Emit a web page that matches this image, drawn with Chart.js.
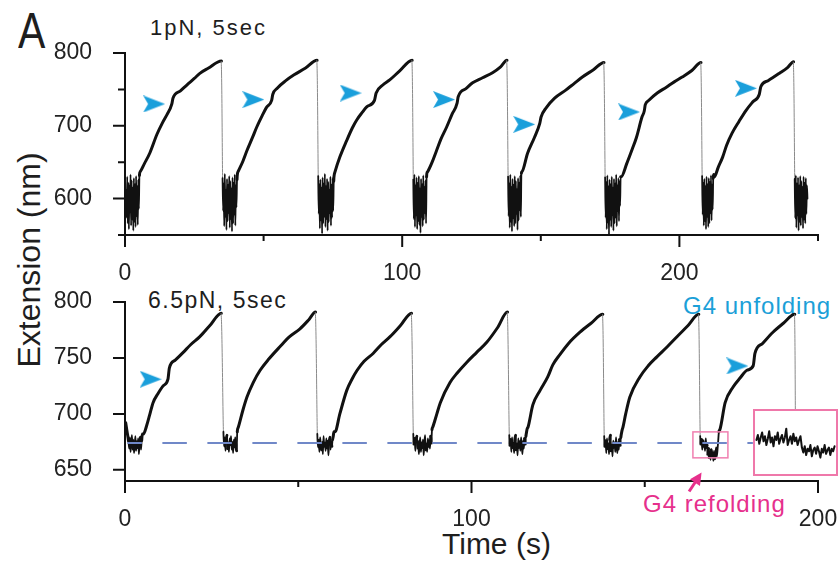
<!DOCTYPE html>
<html>
<head>
<meta charset="utf-8">
<script src="https://cdn.jsdelivr.net/npm/chart.js@4.4.1/dist/chart.umd.min.js"></script>
<style>
    body { margin: 0; background: #fff; width: 838px; height: 562px; position: relative; overflow: hidden;
           font-family: "Liberation Sans", Arial, sans-serif; color: #1e1e1e; }
    .t { position: absolute; line-height: 1; white-space: nowrap; }
    .cv { position: absolute; left: 0; }
    #inset { position: absolute; left: 753px; top: 409px; width: 85px; height: 67px;
             border: 2px solid #ef78aa; box-sizing: border-box; background: #fff; }
    #inset canvas { position: absolute; left: 0; top: 0; }
</style>
</head>
<body>
<div class="t" style="left:18px;top:6px;font-size:50px;transform:scaleX(0.82);transform-origin:left top;">A</div>
<div class="t" style="left:150px;top:17px;font-size:22px;letter-spacing:2px;">1pN, 5sec</div>
<div class="t" style="left:148px;top:289px;font-size:23px;letter-spacing:1.5px;">6.5pN, 5sec</div>
<div class="t" style="left:683px;top:294px;font-size:24px;letter-spacing:1px;color:#1ba0d8;">G4 unfolding</div>
<div class="t" style="left:643px;top:492px;font-size:24px;letter-spacing:1px;color:#e6308c;">G4 refolding</div>
<div class="t" style="left:29px;top:260px;font-size:32px;transform:translate(-50%,-50%) rotate(-90deg);">Extension (nm)</div>
<div class="t" style="left:442px;top:529px;font-size:30px;">Time (s)</div>

<canvas id="top" class="cv" width="838" height="280" style="top:0"></canvas>
<canvas id="bottom" class="cv" width="838" height="282" style="top:280px"></canvas>
<div id="inset"><canvas id="insetChart" width="81" height="63"></canvas></div>

<script>
// ---- 1 pN panel ----
const topXTicks = [0, 50, 100, 150, 200, 250];
const topXLabels = ['0', '', '100', '', '200', ''];
const topYTicks = [550, 600, 650, 700, 750, 800];
const topYLabels = ['', '600', '', '700', '', '800'];

const noiseStep = 0.2;
const topNoiseStart = [0.4, 35.2, 69.7, 104.0, 138.2, 173.2, 208.2, 241.6];
const topNoise = [
    [612,574,630,566,622,558,618,581,633,563,625,571,615,556,628,568,620,561,631,576,617,564,626,586,632],
    [628,583,621,562,634,575,612,557,627,569,619,580,631,560,624,572,614,555,629,566,622,578,633,563,618,588,626,635],
    [631,579,620,559,626,570,615,552,629,566,621,575,634,561,617,572,627,556,623,568,612,580,630,563,619,574,628,583,624,633],
    [626,572,633,561,618,577,629,558,622,569,631,564,614,553,627,575,620,562,632,571,616,580,625,566,630,636],
    [630,576,621,560,633,568,616,555,627,573,619,562,631,566,624,579,613,557,628,570,622,584,632,575,635],
    [629,574,623,558,632,567,617,550,626,571,620,561,630,577,615,556,627,566,621,574,633,562,618,583,628,569,624,590,630],
    [631,578,622,563,627,569,617,558,630,575,620,561,628,566,623,580,632,570,619,585,628,633],
    [627,573,632,560,621,577,629,556,618,568,631,563,624,575,616,559,630,571,622,566,628,579,618,600]
];
const topRise = [
    [[5.5,637],[7,648],[9,663],[11.5,688],[13.5,704],[15.1,715],[16.9,730],[17.3,738],[20,748],[22.3,756],[25,765],[27,772],[30,779],[34.8,789]],
    [[40.8,637],[42.5,651],[44,666],[46,684],[47.5,698],[49.5,714],[51,725],[52.9,735],[53.3,743],[55,752],[58,762],[61,770],[65,779],[69.3,790]],
    [[75.7,636],[77.5,657],[80,680],[82,697],[83.6,708],[85.5,718],[87.2,726],[90,735],[90.6,745],[93,756],[95.5,763],[99,775],[103.6,790]],
    [[109.2,637],[110.8,650],[112.4,666],[114,682],[116,698],[118,716],[119.8,731],[120.2,740],[123,751],[125.4,759],[129,766],[132.6,773],[135.5,781],[137.8,790]],
    [[143.2,637],[145.2,662],[147.7,684],[149.6,703],[150.1,712],[152,725],[155,738],[159,749],[162,758],[165,767],[169,777],[172.8,787]],
    [[179,630],[181,648],[183,668],[184.5,684],[186.5,712],[187.3,720],[187.7,729],[189,735],[192,745],[195.3,753],[198,760],[201,767],[204.5,776],[207.8,787]],
    [[212.6,630],[214,643],[215.6,657],[217,673],[219,690],[221.5,706],[224,721],[226.5,733],[228.8,743],[229.4,754],[232,762],[236,772],[239,780],[241.2,788]]
];
const topArrows = [[10.5,730],[46.3,736],[81.4,745],[115.1,736],[144,702],[181.8,719],[224,751.5]];

// ---- 6.5 pN panel ----
const botXTicks = [0, 50, 100, 150, 200];
const botXLabels = ['0', '', '100', '', '200'];
const botYTicks = [650, 700, 750, 800];
const botYLabels = ['650', '700', '750', '800'];

const botLead = [[0.2,692],[0.6,684]];
const botNoiseStart = [1.0, 28.4, 55.5, 83.2, 110.9, 138.3, 166.0];
const botNoise = [
    [676,669,679,666,674,681,668,677,665,672,680,667,675,670,678,664,673,679,668,676,682],
    [684,671,679,667,676,681,669,674,666,678,672,680,668,675,665,677,670,679,673,667,684],
    [682,670,677,666,679,672,668,675,664,680,671,674,667,678,669,676,663,673,679,668,675,671,677,680,684],
    [682,673,678,667,675,680,669,676,664,672,679,666,674,670,677,663,675,681,668,673,666,678,671,676,669,680,674,686],
    [681,672,677,666,679,670,674,665,676,681,668,673,663,678,670,675,667,679,672,664,676,669,678,673,680,684,687],
    [680,671,676,665,678,669,673,664,677,681,667,672,662,676,670,674,666,679,671,665,675,668,677,672,679,683,686],
    [680,673,677,668,676,671,674,667,678,670,672,664,669,661,666,659,668,662,665,658,667,660,664,670,662,668,676,684]
];
const botRise = [
    [[5.3,682],[6.3,690],[7.2,700],[8.1,710],[9.5,718],[11,725],[12.4,731],[12.8,741],[14.5,748],[16.8,755],[19,762],[21.6,769],[24.5,779],[27.8,790]],
    [[32.7,688],[34,703],[35.2,715],[37,728],[39,739],[41.5,749],[44.7,760],[47.5,769],[50.5,776],[53,784],[55,791]],
    [[60.6,684],[62,700],[64,721],[65.5,731],[67,739],[69,747],[71.6,754],[74,762],[76.5,769],[79.5,779],[82.7,790]],
    [[88.8,688],[90,700],[91,710],[93.8,728],[96,737],[98.6,746],[101.5,755],[104.4,764],[107.5,777],[110.4,791]],
    [[116.3,688],[117.7,708],[119.8,721],[122,733],[123.5,744],[125.5,753],[128,763],[131.3,773],[134.5,781],[137.9,789]],
    [[143.7,688],[144.5,700],[145.7,715],[148.6,733],[151,743],[153.5,751],[156.5,760],[159.3,769],[162.5,779],[165.6,789]],
    [[171.7,686],[173.2,710],[175.5,724],[177.5,732],[179.5,739],[181.3,743],[181.8,754],[184,763],[187,773],[190,781],[193.3,789]]
];
const botTail = [[193.5,680]];
const botArrows = [[7.4,731],[176.7,742.8]];
const baseline = [[0.9,674],[181,674]];
const refoldBox = [163.9, 174.0, 660.7, 683.9];
const refoldArrow = [[162.8,630.6],[166.4,647.5]];

// zoomed view of the refolding step
const insetStart = 166.0;
const insetStep = 0.1;
const insetValues = [677,681,674,679,683,676,680,673,678,684,675,679,672,680,677,683,674,678,681,675,679,686,673,677,680,674,682,676,679,673,677,680,
    671,667,672,665,670,668,673,664,669,671,666,672,668,663,670,667,673,666,669,671,665,670,668,672];

const pt = p => ({ x: p[0], y: p[1] });

function buildTrace(lead, starts, noise, rises, tail) {
    const out = lead.map(pt);
    const n = Math.max(noise.length, rises.length);
    for (let i = 0; i < n; i++) {
        if (noise[i]) noise[i].forEach((v, j) => out.push({ x: +(starts[i] + j * noiseStep).toFixed(2), y: v }));
        if (rises[i]) rises[i].forEach(p => out.push(pt(p)));
    }
    tail.forEach(p => out.push(pt(p)));
    return out;
}

// arrow head used for the unfolding marks
const arrowImg = document.createElement('canvas');
arrowImg.width = 22;
arrowImg.height = 17;
(function () {
    const c = arrowImg.getContext('2d');
    c.fillStyle = '#1a9fdb';
    c.beginPath();
    c.moveTo(0, 0);
    c.lineTo(22, 8.5);
    c.lineTo(0, 17);
    c.lineTo(5, 8.5);
    c.closePath();
    c.fill();
})();

Chart.defaults.font.family = '"Liberation Sans", Arial, sans-serif';
Chart.defaults.color = '#222';

function segStyle(dropMin, steep, thin) {
    return {
        borderColor: c => (c.p1.parsed.y - c.p0.parsed.y < dropMin ? '#8a8a8a' : '#111'),
        borderWidth: c => {
            const dy = c.p1.parsed.y - c.p0.parsed.y;
            if (dy < dropMin) return 1;
            return Math.abs(dy / (c.p1.parsed.x - c.p0.parsed.x)) > steep ? thin : 3;
        }
    };
}

const tickMarks = {
    id: 'tickMarks',
    afterDraw(chart) {
        const { ctx, scales: { x, y } } = chart;
        ctx.save();
        ctx.strokeStyle = '#111';
        ctx.lineWidth = 2;
        ctx.beginPath();
        x.ticks.forEach(t => {
            const px = x.getPixelForValue(t.value);
            ctx.moveTo(px, x.top);
            ctx.lineTo(px, x.top + (t.label ? 12 : 6));
        });
        y.ticks.forEach(t => {
            const py = y.getPixelForValue(t.value);
            ctx.moveTo(y.right, py);
            ctx.lineTo(y.right - (t.label ? 12 : 7), py);
        });
        ctx.stroke();
        ctx.restore();
    }
};

const refoldMarks = {
    id: 'refoldMarks',
    afterDatasetsDraw(chart) {
        const { ctx, scales: { x, y } } = chart;
        ctx.save();
        ctx.strokeStyle = '#f07fb0';
        ctx.lineWidth = 1.5;
        const bx0 = x.getPixelForValue(refoldBox[0]), bx1 = x.getPixelForValue(refoldBox[1]);
        const by0 = y.getPixelForValue(refoldBox[3]), by1 = y.getPixelForValue(refoldBox[2]);
        ctx.strokeRect(bx0, by0, bx1 - bx0, by1 - by0);
        const tx = x.getPixelForValue(refoldArrow[0][0]), ty = y.getPixelForValue(refoldArrow[0][1]);
        const hx = x.getPixelForValue(refoldArrow[1][0]), hy = y.getPixelForValue(refoldArrow[1][1]);
        const ang = Math.atan2(hy - ty, hx - tx);
        ctx.strokeStyle = ctx.fillStyle = '#e6308c';
        ctx.lineWidth = 3;
        ctx.beginPath();
        ctx.moveTo(tx, ty);
        ctx.lineTo(hx - 8 * Math.cos(ang), hy - 8 * Math.sin(ang));
        ctx.stroke();
        ctx.beginPath();
        ctx.moveTo(hx, hy);
        ctx.lineTo(hx - 12 * Math.cos(ang) + 6 * Math.sin(ang), hy - 12 * Math.sin(ang) - 6 * Math.cos(ang));
        ctx.lineTo(hx - 12 * Math.cos(ang) - 6 * Math.sin(ang), hy - 12 * Math.sin(ang) + 6 * Math.cos(ang));
        ctx.closePath();
        ctx.fill();
        ctx.restore();
    }
};

function axes(xMin, xMax, xTicks, xLabels, yMin, yMax, yTicks, yLabels, xHeight) {
    const common = { grid: { display: false }, border: { display: true, color: '#111', width: 2 } };
    return {
        x: {
            ...common, type: 'linear', min: xMin, max: xMax,
            afterBuildTicks: s => { s.ticks = xTicks.map(v => ({ value: v })); },
            afterFit: s => { s.height = xHeight; s.paddingLeft = 0; s.paddingRight = 0; },
            ticks: { autoSkip: false, maxRotation: 0, padding: 17, font: { size: 23 }, callback: (v, i) => xLabels[i] }
        },
        y: {
            ...common, type: 'linear', min: yMin, max: yMax,
            afterBuildTicks: s => { s.ticks = yTicks.map(v => ({ value: v })); },
            afterFit: s => { s.width = 125; s.paddingTop = 0; s.paddingBottom = 0; },
            ticks: { autoSkip: false, padding: 25, font: { size: 23 }, callback: (v, i) => yLabels[i] }
        }
    };
}

const baseOpts = {
    responsive: false,
    devicePixelRatio: 1,
    animation: false,
    plugins: { legend: { display: false }, tooltip: { enabled: false } },
    elements: { point: { radius: 0 }, line: { tension: 0, borderJoinStyle: 'round', borderCapStyle: 'round' } }
};

new Chart(document.getElementById('top'), {
    type: 'scatter',
    data: {
        datasets: [
            { data: topArrows.map(pt), pointStyle: arrowImg, pointRadius: 10, clip: false },
            { data: buildTrace([], topNoiseStart, topNoise, topRise, []), showLine: true, borderColor: '#111',
              borderWidth: 3, cubicInterpolationMode: 'monotone', segment: segStyle(-100, 60, 1.8) }
        ]
    },
    options: {
        ...baseOpts,
        layout: { padding: { top: 53, right: 20, left: 0, bottom: 0 } },
        scales: axes(0, 250, topXTicks, topXLabels, 550, 800, topYTicks, topYLabels, 45)
    },
    plugins: [tickMarks]
});

new Chart(document.getElementById('bottom'), {
    type: 'scatter',
    data: {
        datasets: [
            { data: botArrows.map(pt), pointStyle: arrowImg, pointRadius: 10, clip: false },
            { data: baseline.map(pt), showLine: true, borderColor: '#7088c8', borderWidth: 2,
              borderDash: [23, 22], borderDashOffset: 10 },
            { data: buildTrace(botLead, botNoiseStart, botNoise, botRise, botTail), showLine: true,
              borderColor: '#111', borderWidth: 3, cubicInterpolationMode: 'monotone', segment: segStyle(-60, 30, 1.8) }
        ]
    },
    options: {
        ...baseOpts,
        layout: { padding: { top: 22, right: 20, left: 0, bottom: 0 } },
        scales: axes(0, 200, botXTicks, botXLabels, 640, 800, botYTicks, botYLabels, 81)
    },
    plugins: [tickMarks, refoldMarks]
});

new Chart(document.getElementById('insetChart'), {
    type: 'scatter',
    data: {
        datasets: [{
            data: insetValues.map((v, i) => ({ x: +(insetStart + i * insetStep).toFixed(2), y: v })),
            showLine: true, borderColor: '#111', borderWidth: 2
        }]
    },
    options: {
        ...baseOpts,
        layout: { padding: 0 },
        scales: {
            x: { display: false, min: 165.9, max: 171.6 },
            y: { display: false, min: 650, max: 700 }
        }
    }
});
</script>
</body>
</html>
